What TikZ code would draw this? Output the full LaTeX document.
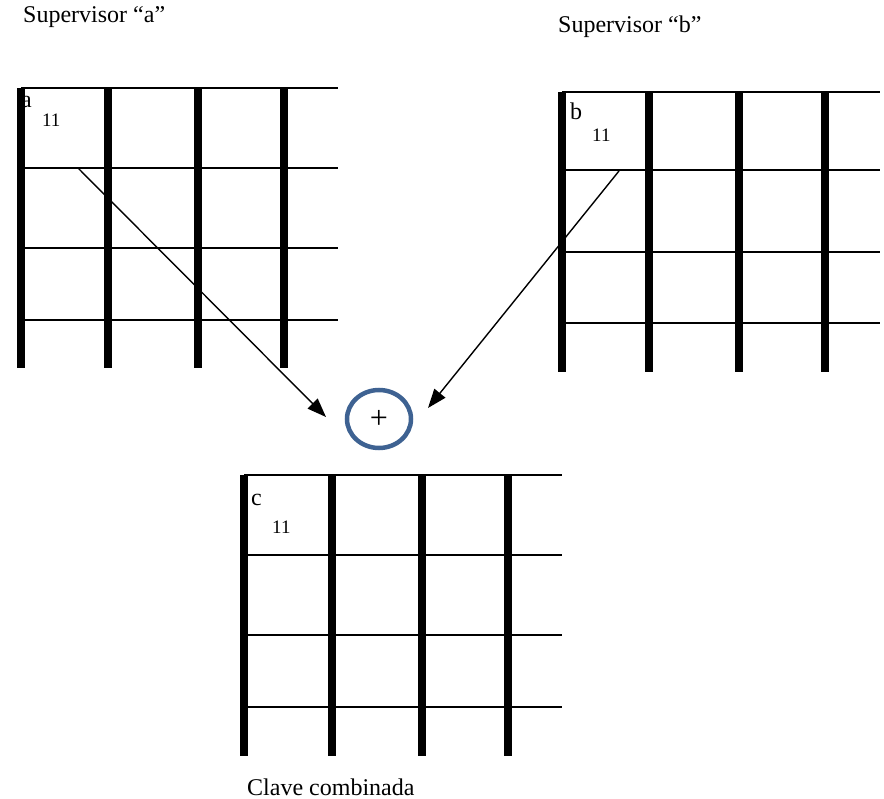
\documentclass[tikz,border=0pt]{standalone}
\usepackage{fontspec}
\setmainfont{Liberation Serif}
\usetikzlibrary{arrows.meta,shapes.geometric}
\definecolor{ringblue}{RGB}{62,98,146}
\tikzset{
  thickv/.style={line width=7.5pt},
  thinh/.style={line width=2.6pt},
  lbl/.style={anchor=base west,inner sep=0pt,font=\fontsize{24}{28}\selectfont},
  sublbl/.style={anchor=base west,inner sep=0pt,font=\fontsize{19}{22}\selectfont},
  arr/.style={line width=1.4pt,-{Triangle[length=19pt,width=14pt]}},
  ring/.style={ellipse,draw=ringblue,line width=4.5pt,minimum width=64pt,minimum height=58pt,inner sep=0pt}
}
\begin{document}
\begin{tikzpicture}[x=1pt,y=-1pt]
\useasboundingbox (0,0) rectangle (884,799);
% grid a
\foreach \y in {88,168,248,320} \draw[thinh] (21,\y) -- (338,\y);
\foreach \x in {21,108,198,284} \draw[thickv] (\x,88) -- (\x,368);
% grid b
\foreach \y in {92,170,252,323} \draw[thinh] (562,\y) -- (880,\y);
\foreach \x in {562,649,739,825} \draw[thickv] (\x,92) -- (\x,372);
% grid c
\foreach \y in {475,555,635,707} \draw[thinh] (244,\y) -- (562,\y);
\foreach \x in {244,332,422,508} \draw[thickv] (\x,475) -- (\x,756);
% texts
\node[lbl] (supa) at (23,23) {Supervisor “a”};
\node[lbl] (supb) at (558,33) {Supervisor “b”};
\node[lbl] (clave) at (247,795) {Clave combinada};
\node[lbl] (la) at (21,108) {a};
\node[sublbl] (la11) at (42,127) {11};
\node[lbl] (lb) at (570,120) {b};
\node[sublbl] (lb11) at (592,142) {11};
\node[lbl] (lc) at (251,505) {c};
\node[sublbl] (lc11) at (272,533) {11};
% plus circle
\node[ring,font=\fontsize{32}{36}\selectfont] (plus) at (379,419) {+};
% arrows
\coordinate (sa) at (78,168);
\coordinate (ta) at (326,417);
\coordinate (sb) at (619,171);
\coordinate (tb) at (428,408);
\draw[arr] (sa) -- (ta);
\draw[arr] (sb) -- (tb);
\end{tikzpicture}
\end{document}
